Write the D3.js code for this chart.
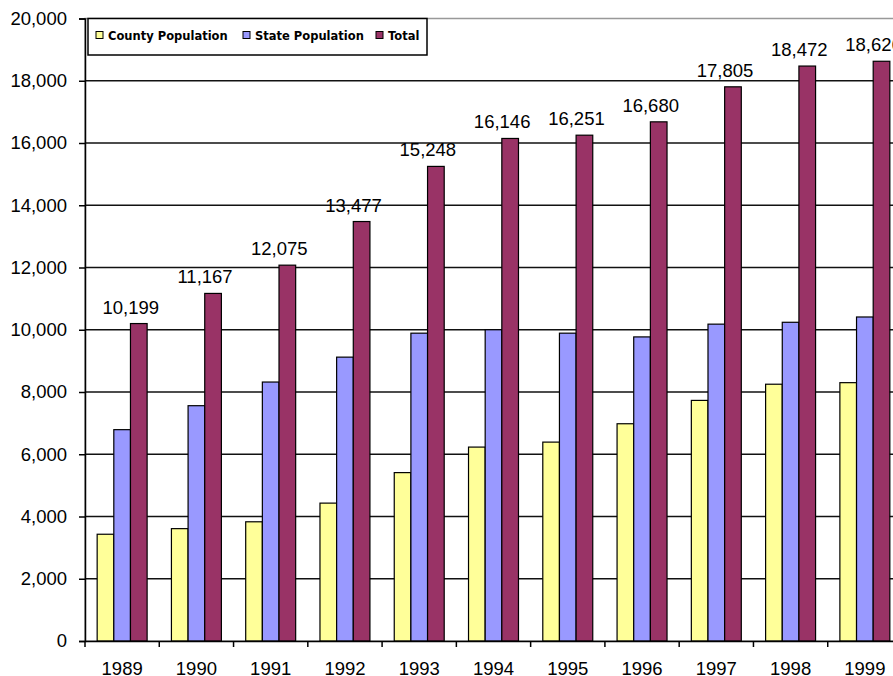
<!DOCTYPE html>
<html>
<head>
<meta charset="utf-8">
<script src="https://cdn.jsdelivr.net/npm/d3@7"></script>
<style>
  body { margin: 0; background: #fff; }
  svg { display: block; }
</style>
</head>
<body>
<div id="chart"></div>
<script>
// values
const years = ['1989', '1990', '1991', '1992', '1993', '1994', '1995', '1996', '1997', '1998', '1999'];
const seriesNames = ['County Population', 'State Population', 'Total'];
const county = [3430, 3610, 3830, 4430, 5410, 6230, 6390, 6980, 7730, 8250, 8300];
const state = [6790, 7560, 8320, 9120, 9890, 10000, 9890, 9770, 10180, 10240, 10410];
const total = [10199, 11167, 12075, 13477, 15248, 16146, 16251, 16680, 17805, 18472, 18626];
const yTicks = [0, 2000, 4000, 6000, 8000, 10000, 12000, 14000, 16000, 18000, 20000];
const colors = ['#ffff99', '#9999ff', '#993366'];

const width = 893;
const height = 676;
const margin = { top: 18.5, right: -9, bottom: 35, left: 85 };

const innerWidth = width - margin.left - margin.right;
const innerHeight = height - margin.top - margin.bottom;

const rows = years.map((y, i) => ({ year: y, values: [county[i], state[i], total[i]] }));

const svg = d3.select('#chart')
  .append('svg')
  .attr('width', width)
  .attr('height', height)
  .style('background-color', '#fff')
  .append('g')
  .attr('transform', `translate(${margin.left}, ${margin.top})`);

// scales
const x0 = d3.scaleBand()
  .domain(years)
  .range([0, innerWidth])
  .padding(0);

const x1 = d3.scaleBand()
  .domain(d3.range(seriesNames.length))
  .range([0, x0.bandwidth()])
  .paddingInner(0)
  .paddingOuter(0.73);

const yScale = d3.scaleLinear()
  .domain([0, 20000])
  .range([innerHeight, 0]);

// plot area border (gray) and gridlines (black)
svg.append('rect')
  .attr('x', 0).attr('y', 0)
  .attr('width', innerWidth).attr('height', innerHeight)
  .attr('fill', 'none')
  .attr('stroke', '#999')
  .attr('stroke-width', 1.5);

svg.append('g')
  .selectAll('line')
  .data(yTicks.filter(t => t > 0 && t < 20000))
  .enter().append('line')
  .attr('x1', 0).attr('x2', innerWidth)
  .attr('y1', d => yScale(d)).attr('y2', d => yScale(d))
  .attr('stroke', '#111')
  .attr('stroke-width', 1.5);

// bars
const groups = svg.append('g')
  .selectAll('g')
  .data(rows)
  .enter().append('g')
  .attr('transform', d => `translate(${x0(d.year)}, 0)`);

groups.selectAll('rect')
  .data(d => d.values.map((v, i) => ({ i, v })))
  .enter().append('rect')
  .attr('x', d => x1(d.i))
  .attr('y', d => yScale(d.v))
  .attr('width', x1.bandwidth())
  .attr('height', d => innerHeight - yScale(d.v))
  .attr('fill', d => colors[d.i])
  .attr('stroke', '#000')
  .attr('stroke-width', 1.2);

// total labels
svg.append('g')
  .selectAll('text')
  .data(rows)
  .enter().append('text')
  .attr('x', d => x0(d.year) + x1(2) + x1.bandwidth() / 2 - 8)
  .attr('y', d => yScale(d.values[2]) - 10)
  .attr('text-anchor', 'middle')
  .style('font-family', 'Arial, "Liberation Sans", sans-serif')
  .style('font-size', '18.5px')
  .style('fill', '#000')
  .text(d => d3.format(',')(d.values[2]));

// Y axis
const yAxis = d3.axisLeft(yScale)
  .tickValues(yTicks)
  .tickFormat(d3.format(','))
  .tickSize(6)
  .tickPadding(12);

const gY = svg.append('g')
  .attr('class', 'axis y-axis')
  .call(yAxis);

gY.select('.domain').attr('stroke', '#000').attr('stroke-width', 1.5);
gY.selectAll('.tick line').attr('stroke', '#000').attr('stroke-width', 1.5);
gY.selectAll('.tick text')
  .style('font-family', 'Arial, "Liberation Sans", sans-serif')
  .style('font-size', '18.5px')
  .style('fill', '#000');

// X axis
const xAxis = d3.axisBottom(x0).tickSize(0).tickPadding(21);

const gX = svg.append('g')
  .attr('class', 'axis x-axis')
  .attr('transform', `translate(0, ${innerHeight})`)
  .call(xAxis);

gX.select('.domain').attr('stroke', '#000').attr('stroke-width', 1.5);
gX.selectAll('.tick text')
  .style('font-family', 'Arial, "Liberation Sans", sans-serif')
  .style('font-size', '18.5px')
  .style('fill', '#000');

// tick marks at the category boundaries
gX.append('g')
  .selectAll('line')
  .data(years)
  .enter().append('line')
  .attr('x1', d => x0(d)).attr('x2', d => x0(d))
  .attr('y1', 0).attr('y2', 6)
  .attr('stroke', '#000')
  .attr('stroke-width', 1.5);

// legend
const legend = svg.append('g')
  .attr('transform', 'translate(3, 0)');

legend.append('rect')
  .attr('x', 0).attr('y', 0)
  .attr('width', 339).attr('height', 36.5)
  .attr('fill', '#fff')
  .attr('stroke', '#000')
  .attr('stroke-width', 1.5);

const legendX = [8, 155, 288];

const items = legend.selectAll('g.item')
  .data(seriesNames)
  .enter().append('g')
  .attr('class', 'item')
  .attr('transform', (d, i) => `translate(${legendX[i]}, 17)`);

items.append('rect')
  .attr('x', 0).attr('y', -4)
  .attr('width', 7).attr('height', 7)
  .attr('fill', (d, i) => colors[i])
  .attr('stroke', '#000')
  .attr('stroke-width', 1);

items.append('text')
  .attr('x', 12)
  .attr('y', 4)
  .style('font-family', '"DejaVu Sans", sans-serif')
  .style('font-size', '11.5px')
  .style('font-weight', 'bold')
  .style('fill', '#000')
  .text(d => d);
</script>
</body>
</html>
